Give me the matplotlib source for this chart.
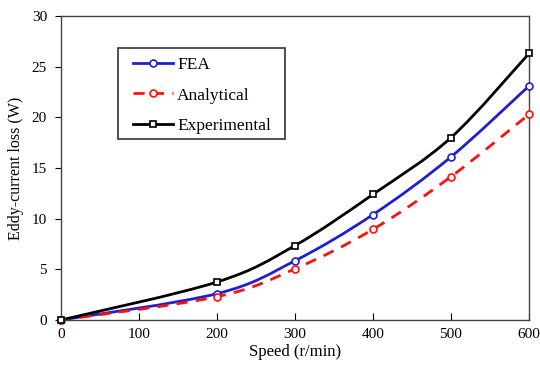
import numpy as np
import matplotlib
matplotlib.use("Agg")
import matplotlib.pyplot as plt
from matplotlib.path import Path
from matplotlib.patches import PathPatch, Rectangle
from matplotlib.lines import Line2D

speed = [0, 200, 300, 400, 500, 600]
fea = [0, 2.6, 5.85, 10.4, 16.1, 23.1]
analytical = [0, 2.3, 5.05, 8.95, 14.15, 20.3]
experimental = [0, 3.75, 7.35, 12.4, 18.0, 26.3]
xticks = [0, 100, 200, 300, 400, 500, 600]
yticks = [0, 5, 10, 15, 20, 25, 30]

plt.rcParams['font.family'] = ['Liberation Serif', 'DejaVu Serif']

W, H = 540, 377
fig = plt.figure(figsize=(5.4, 3.77), dpi=100)
ax = fig.add_axes([61 / W, 1 - 320 / H, 468 / W, 304 / H])


def smooth_path(x, y, t=0.5):
    x = np.asarray(x, float); y = np.asarray(y, float)
    verts = [(x[0], y[0])]
    codes = [Path.MOVETO]
    n = len(x)
    for i in range(n - 1):
        p0 = (x[i - 1], y[i - 1]) if i > 0 else (x[i], y[i])
        p1 = (x[i], y[i]); p2 = (x[i + 1], y[i + 1])
        p3 = (x[i + 2], y[i + 2]) if i + 2 < n else p2
        c1 = (p1[0] + (p2[0] - p0[0]) * t / 3, p1[1] + (p2[1] - p0[1]) * t / 3)
        c2 = (p2[0] - (p3[0] - p1[0]) * t / 3, p2[1] - (p3[1] - p1[1]) * t / 3)
        verts += [c1, c2, p2]
        codes += [Path.CURVE4] * 3
    return Path(verts, codes)


series = [
    (fea, '#1f1fd0', '-', 'o', 5, 'FEA'),
    (analytical, '#ff1010', (0, (4, 3)), 'o', 5, 'Analytical'),
    (experimental, 'black', '-', 's', 3.8, 'Experimental'),
]
handles = []
for ys, col, ls, mk, ms, lab in series:
    patch = PathPatch(smooth_path(speed, ys), facecolor='none', edgecolor=col,
                      lw=2.0, linestyle=ls, clip_on=False, zorder=2)
    ax.add_patch(patch)
    ax.plot(speed, ys, linestyle='none', marker=mk, ms=ms, mfc='white',
            mec=col, mew=1.2, clip_on=False, zorder=3)
    handles.append(Line2D([], [], color=col, lw=2.0, linestyle=ls, marker=mk,
                          ms=ms, mfc='white', mec=col, mew=1.2, label=lab))

ax.set_xlim(0, 600)
ax.set_ylim(0, 30)
ax.set_xticks(xticks)
ax.set_yticks(yticks)
ax.tick_params(axis='x', direction='in', length=5, labelsize=11, pad=6)
ax.tick_params(axis='y', direction='out', length=4, labelsize=11, pad=6)
for s in ax.spines.values():
    s.set_color('#444444')
    s.set_linewidth(1.0)
ax.set_xlabel('Speed (r/min)', fontsize=12, labelpad=2)
ax.set_ylabel('Eddy-current loss (W)', fontsize=11.5, labelpad=6)

# legend frame
fig.patches.append(Rectangle((118 / W, 1 - 139 / H), 167 / W, 91 / H,
                             transform=fig.transFigure, facecolor='white',
                             edgecolor='#333333', lw=1.2, zorder=4))
leg = fig.legend(handles=handles, loc='upper left',
                 bbox_to_anchor=(133 / W, 1 - 57 / H),
                 fontsize=12.5, frameon=False, handlelength=2.3,
                 handletextpad=0.25, borderpad=0, borderaxespad=0,
                 labelspacing=0.82)
leg.set_zorder(5)

fig.savefig('out.png', dpi=100)
